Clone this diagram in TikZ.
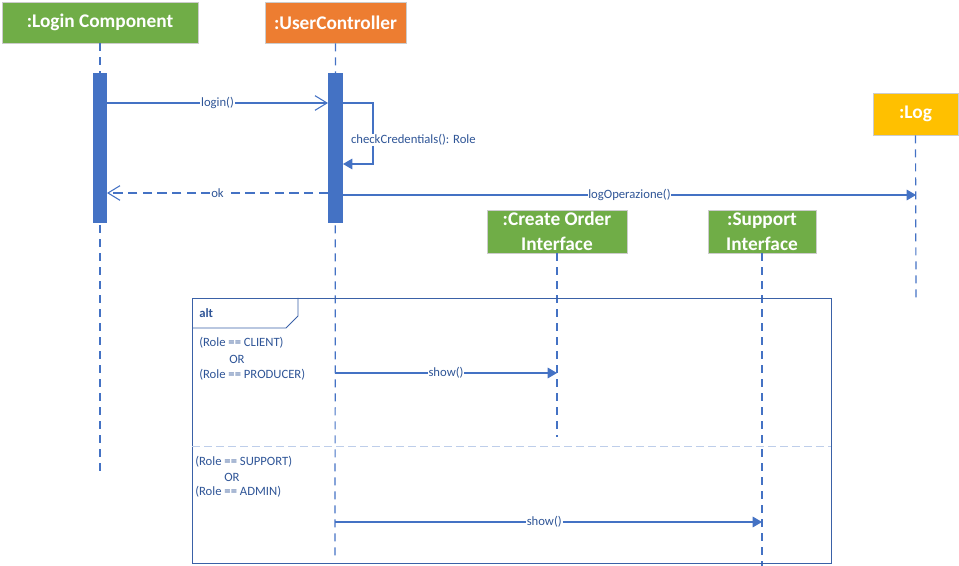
\documentclass[tikz,border=0pt]{standalone}
\usepackage{fontspec}
\setmainfont{Carlito}
\usetikzlibrary{arrows.meta}
\definecolor{lblue}{HTML}{4472C4}
\definecolor{tblue}{HTML}{2F5597}
\definecolor{cgreen}{HTML}{70AD47}
\definecolor{corange}{HTML}{ED7D31}
\definecolor{cgold}{HTML}{FFC000}
\tikzset{
  obj/.style={draw=white!80!black, line width=0.6pt, text=white, font=\fontsize{14.5}{17}\selectfont\bfseries, align=center, inner sep=0pt},
  life/.style={draw=lblue, line width=0.9pt, dash pattern=on 6pt off 4.5pt},
  act/.style={fill=lblue, draw=none},
  msg/.style={draw=lblue, line width=0.8pt},
  lbl/.style={text=tblue, font=\fontsize{9.5}{11}\selectfont, fill=white, inner sep=0.6pt},
  guard/.style={text=tblue, font=\fontsize{9.5}{11}\selectfont, anchor=west, inner sep=0pt},
}
\begin{document}
\begin{tikzpicture}[x=0.75pt,y=-0.75pt]
\useasboundingbox (0,0) rectangle (959,566);
% objects
\node[obj, fill=cgreen, minimum width=196*0.75pt, minimum height=41*0.75pt] (login) at (100,22.5) {:Login Component};
\node[obj, fill=corange, minimum width=141*0.75pt, minimum height=41*0.75pt] (uc) at (335.5,22.5) {:UserController};
\node[obj, fill=cgold, minimum width=85*0.75pt, minimum height=42*0.75pt] (log) at (915.5,114) {:Log};
\node[obj, fill=cgreen, minimum width=140*0.75pt, minimum height=43*0.75pt, font=\fontsize{14.5}{18.5}\selectfont\bfseries] (co) at (557,231.5) {:Create Order\\Interface};
\node[obj, fill=cgreen, minimum width=108*0.75pt, minimum height=43*0.75pt, font=\fontsize{14.5}{18.5}\selectfont\bfseries] (si) at (762,231.5) {:Support\\Interface};
% lifeline ends
\coordinate (loginE) at (100,475);
\coordinate (ucE) at (335,556);
\coordinate (logE) at (916,298);
\coordinate (coE) at (557,437);
\coordinate (siE) at (762,566);
\draw[life] (login.south) -- (loginE);
\draw[life] (uc.south) -- (ucE);
\draw[life] (log.south) -- (logE);
\draw[life] (co.south) -- (coE);
\draw[life] (si.south) -- (siE);
% activations
\node[act, minimum width=14*0.75pt, minimum height=150*0.75pt, inner sep=0pt] (aL) at (100,148) {};
\node[act, minimum width=15*0.75pt, minimum height=150*0.75pt, inner sep=0pt] (aU) at (335.5,148) {};
% login()
\coordinate (l1) at (107,103);
\coordinate (l2) at (328,103);
\draw[msg, -{Straight Barb[length=9pt,width=11pt,line width=0.8pt]}] (l1) -- node[lbl]{login()} (l2);
% self call
\coordinate (s1) at (343,103);
\coordinate (s2) at (373,103);
\coordinate (s3) at (373,164);
\coordinate (s4) at (343,164);
\draw[msg, -{Triangle[length=7pt,width=8pt]}] (s1) -- (s2) -- (s3) -- (s4);
\node[lbl, anchor=west, fill=white] (cc) at (350,140) {checkCredentials(): Role};
% ok
\coordinate (o1) at (328,193);
\coordinate (o2) at (107,193);
\draw[msg, dash pattern=on 7pt off 4pt, -{Straight Barb[length=9pt,width=11pt,line width=0.8pt]}] (o1) -- node[lbl]{ok} (o2);
% logOperazione
\coordinate (g1) at (343,195);
\coordinate (g2) at (916,195);
\draw[msg, -{Triangle[length=7pt,width=8pt]}] (g1) -- node[lbl, pos=0.5]{logOperazione()} (g2);
% alt frame
\draw[draw=lblue!85!black, line width=0.7pt] (192,298) rectangle (831,563);
\draw[draw=lblue!85!black, line width=0.6pt] (192,328) -- (286,328) -- (298,316) -- (298,298);
\node[text=tblue, font=\fontsize{9.5}{11}\selectfont\bfseries, anchor=west, inner sep=0pt] (alt) at (199,313) {alt};
\draw[draw=lblue!35, line width=0.6pt, dash pattern=on 6pt off 3pt] (192,446) -- (831,446);
% guards
\node[guard] (g1a) at (199,343) {(Role == CLIENT)};
\node[guard] (g1b) at (229,359) {OR};
\node[guard] (g1c) at (199,375) {(Role == PRODUCER)};
\node[guard] (g2a) at (195,462) {(Role == SUPPORT)};
\node[guard] (g2b) at (224,477) {OR};
\node[guard] (g2c) at (195,492) {(Role == ADMIN)};
% show messages
\coordinate (h1) at (335,373);
\coordinate (h2) at (557,373);
\draw[msg, -{Triangle[length=7pt,width=8pt]}] (h1) -- node[lbl]{show()} (h2);
\coordinate (k1) at (335,522);
\coordinate (k2) at (762,522);
\draw[msg, -{Triangle[length=7pt,width=8pt]}] (k1) -- node[lbl, pos=0.49]{show()} (k2);
\end{tikzpicture}
\end{document}
